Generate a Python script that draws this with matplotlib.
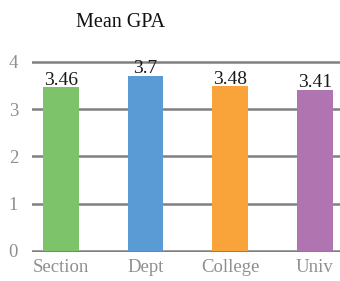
import matplotlib
matplotlib.use("Agg")
import matplotlib.pyplot as plt

categories = ["Section", "Dept", "College", "Univ"]
gpa = [3.46, 3.7, 3.48, 3.41]
labels = ["3.46", "3.7", "3.48", "3.41"]
colors = ["#7cc36a", "#5b9bd5", "#f9a33b", "#b074b0"]

plt.rcParams["font.family"] = "Liberation Serif"

fig = plt.figure(figsize=(3.4, 2.81), dpi=100)
ax = fig.add_axes([0.094, 0.102, 0.912, 0.683])

x = range(len(categories))
ax.bar(x, gpa, width=0.42, color=colors, zorder=3)
for xi, v, t in zip(x, gpa, labels):
    ax.annotate(t, (xi, v), xytext=(0, -1), textcoords="offset points",
                ha="center", va="bottom", fontsize=14, color="#1a1a1a", zorder=4)

ax.set_xlim(-0.34, 3.32)
ax.set_ylim(-0.03, 4.03)
ax.set_yticks([0, 1, 2, 3, 4])
ax.set_xticks(list(x))
ax.set_xticklabels(categories)
ax.yaxis.grid(True, color="#808080", linewidth=1.8, zorder=0)
ax.set_axisbelow(True)
for s in ax.spines.values():
    s.set_visible(False)
ax.tick_params(length=0, colors="#8f8f8f", labelsize=13.5)
ax.tick_params(axis="y", pad=10)
ax.tick_params(axis="x", pad=5)

fig.text(0.353, 0.92, "Mean GPA", ha="center", va="center", fontsize=14.5,
         color="#111111")

fig.savefig("out.png", dpi=100)
